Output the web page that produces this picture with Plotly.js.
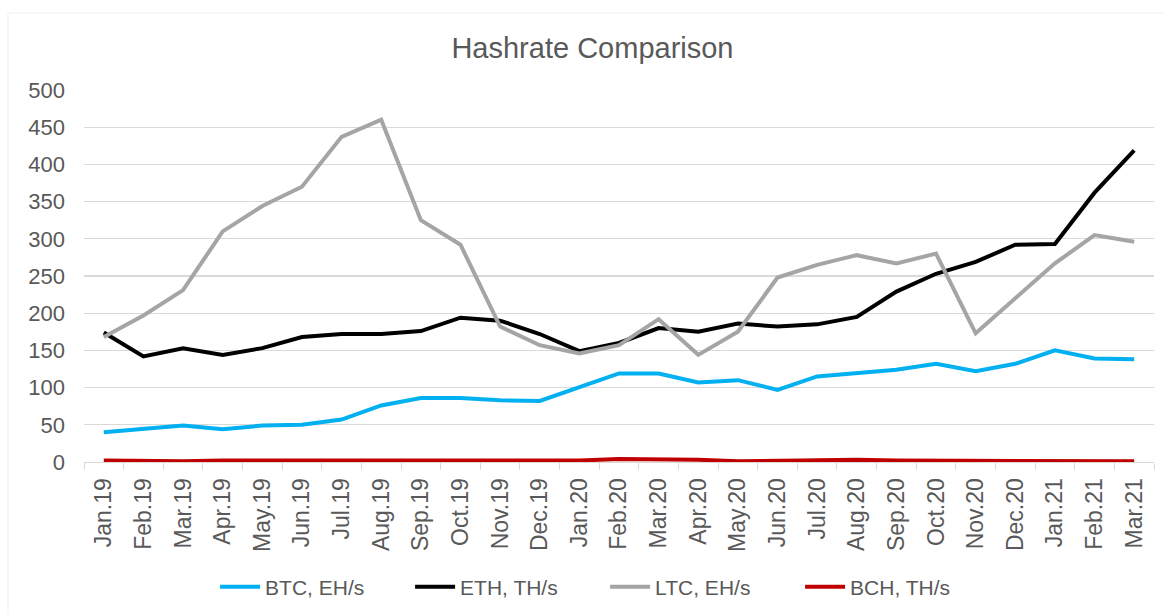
<!DOCTYPE html>
<html>
<head>
<meta charset="utf-8">
<script src="https://cdn.plot.ly/plotly-3.0.1.min.js"></script>
<style>html,body{margin:0;padding:0;background:#fff;}#chart{width:1164px;height:614px;}</style>
</head>
<body>
<div id="chart"></div>
<script>
const months = ["Jan.19","Feb.19","Mar.19","Apr.19","May.19","Jun.19","Jul.19","Aug.19","Sep.19","Oct.19","Nov.19","Dec.19",
  "Jan.20","Feb.20","Mar.20","Apr.20","May.20","Jun.20","Jul.20","Aug.20","Sep.20","Oct.20","Nov.20","Dec.20",
  "Jan.21","Feb.21","Mar.21"];
const btc = [40,44,49,44,49,50,57,76,86,86,83,82,101,119,119,107,110,97,115,120,124,132,122,132,150,139,138];
const eth = [174,142,153,144,153,168,172,172,176,194,190,172,149,160,180,175,186,182,185,195,229,253,269,292,293,362,419];
const ltc = [168,197,231,310,344,370,437,460,325,292,182,157,146,157,192,144,175,248,265,278,267,280,173,220,267,305,296];
const bch = [2,1,1,2,2,2,2,2,2,2,2,2,2,4,4,3,1,2,2,3,2,2,2,1,1,1,1];
const seriesNames = ["BTC, EH/s","ETH, TH/s","LTC, EH/s","BCH, TH/s"];
const seriesColors = ["#00B0F0","#000000","#A5A5A5","#C00000"];
const yTicks = [0,50,100,150,200,250,300,350,400,450,500];

const values = [btc, eth, ltc, bch];
const traces = values.map((v, i) => ({
  type: "scatter", mode: "lines", name: seriesNames[i], x: months, y: v,
  line: {color: seriesColors[i], width: 4, shape: "linear"}
}));

const layout = {
  width: 1164, height: 614,
  margin: {l: 84, r: 10, t: 90, b: 152, autoexpand: false},
  paper_bgcolor: "#ffffff", plot_bgcolor: "#ffffff",
  font: {family: "Liberation Sans, Arial, sans-serif", color: "#595959"},
  title: {text: "Hashrate Comparison", font: {size: 29, color: "#595959"},
    xref: "container", x: 0.509, xanchor: "center", yref: "container", y: 0.922, yanchor: "middle"},
  xaxis: {
    type: "category", range: [-0.5, months.length - 0.5], tickangle: -90, tickfont: {size: 23, color: "#595959"},
    showgrid: false, showline: true, linecolor: "#D9D9D9", linewidth: 1,
    ticks: "outside", tickson: "boundaries", ticklen: 7, tickcolor: "#D9D9D9",
    ticklabelstandoff: 6, fixedrange: true, automargin: false
  },
  yaxis: {
    range: [0, 500], tickvals: yTicks, ticktext: yTicks.map(String),
    tickfont: {size: 22, color: "#595959"}, showgrid: true, gridcolor: "#D9D9D9", gridwidth: 1.2,
    zeroline: false, showline: false, ticks: "", ticklabelstandoff: 18, fixedrange: true, automargin: false
  },
  legend: {orientation: "h", x: 0.487, xanchor: "center", y: -0.336, yanchor: "middle",
    font: {size: 21, color: "#595959"}, itemwidth: 40, traceorder: "normal",
    entrywidth: 140, entrywidthmode: "pixels"},
  showlegend: true,
  shapes: [{type: "rect", xref: "paper", yref: "paper", x0: -0.071, x1: 1.1, y0: -0.5, y1: 1.207,
    line: {color: "#EFEFEF", width: 1}, fillcolor: "rgba(0,0,0,0)", layer: "below"}]
};

Plotly.newPlot("chart", traces, layout, {displayModeBar: false, staticPlot: true});
</script>
</body>
</html>
